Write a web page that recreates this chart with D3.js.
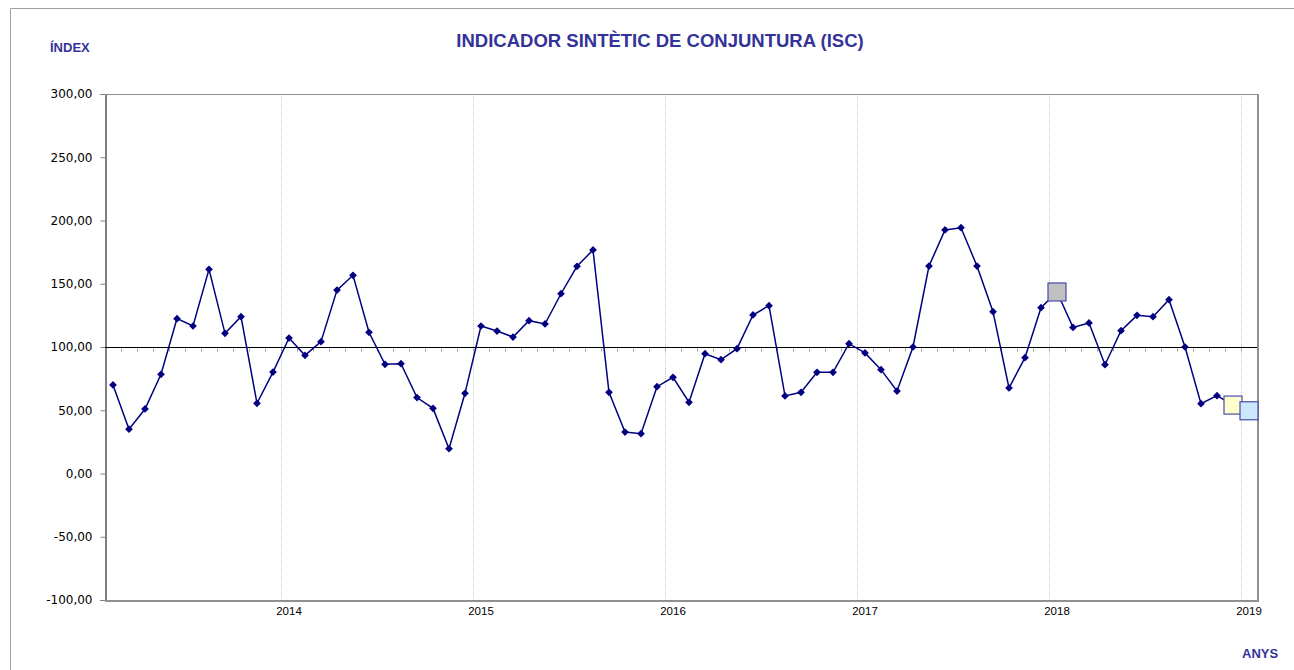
<!DOCTYPE html>
<html>
<head>
<meta charset="utf-8">
<script src="https://cdn.jsdelivr.net/npm/d3@7"></script>
<style>
  body { margin: 0; background: #fff; }
  svg { display: block; }
</style>
</head>
<body>
<svg id="chart"></svg>
<script>
// monthly values, Feb 2013 .. Jan 2019
const values2013 = [70, 35, 51, 78.4, 122.4, 116.6, 161.4, 110.8, 124, 55.5, 80.2];
const values2014 = [107.1, 93.4, 104.2, 145, 156.7, 111.6, 86.3, 86.8, 60, 51.5, 19.6, 63.4];
const values2015 = [116.6, 112.6, 107.9, 120.8, 118.2, 142.1, 163.8, 176.7, 64.2, 32.8, 31.5, 68.6];
const values2016 = [76, 56.3, 94.7, 90, 98.7, 125.3, 132.7, 61.3, 64.2, 80, 80, 102.6];
const values2017 = [95.3, 82.1, 65.2, 100, 164, 192.5, 194.3, 164, 127.9, 67.6, 91.6, 131.1];
const values2018 = [143.5, 115.5, 119, 86, 112.9, 125, 124, 137.4, 100, 55.2, 61.5, 54.1];
const values2019 = [49.6];

const yearLabels = ["2014", "2015", "2016", "2017", "2018", "2019"];
const yTicks = [-100, -50, 0, 50, 100, 150, 200, 250, 300];
// highlighted points: month key -> fill
const highlights = [
  {key: "2018-01", fill: "#c0c0c0"},
  {key: "2018-12", fill: "#ffffcc"},
  {key: "2019-01", fill: "#cce8ff"}
];

const width = 1294, height = 670;
const plot = {left: 105, right: 1257, top: 94, bottom: 600};
const blue = "#333399";

// build month keys
const series = [];
[[2013, values2013, 2], [2014, values2014, 1], [2015, values2015, 1], [2016, values2016, 1],
 [2017, values2017, 1], [2018, values2018, 1], [2019, values2019, 1]].forEach(([yr, vals, m0]) => {
  vals.forEach((v, i) => {
    const m = m0 + i;
    series.push({key: yr + "-" + String(m).padStart(2, "0"), value: v});
  });
});

const svg = d3.select("#chart").attr("width", width).attr("height", height);
svg.append("rect").attr("width", width).attr("height", height).attr("fill", "#fff");

// outer chart frame
svg.append("path").attr("d", "M10.5," + height + "V8.5H" + width)
  .attr("fill", "none").attr("stroke", "#a0a0a0");

const x = d3.scaleBand().domain(series.map(d => d.key)).range([plot.left, plot.right]);
const y = d3.scaleLinear().domain([-100, 300]).range([plot.bottom, plot.top]);

const loc = d3.formatLocale({decimal: ",", thousands: ".", grouping: [3], currency: ["", ""], minus: "-"});
const fmt = loc.format(".2f");

// year gridlines (dotted) at january boundaries
yearLabels.forEach(yr => {
  const xx = Math.round(x(yr + "-01")) + 0.5;
  svg.append("line").attr("x1", xx).attr("x2", xx).attr("y1", plot.top).attr("y2", plot.bottom)
    .attr("stroke", "#c4c4c4").attr("stroke-dasharray", "1,1");
  svg.append("text").attr("x", x(yr + "-01") + x.bandwidth() / 2).attr("y", 615)
    .attr("text-anchor", "middle").attr("font-family", "Liberation Sans, Arial, sans-serif")
    .attr("font-size", 11.5).attr("fill", "#000").text(yr);
});

// y axis
const yAxis = svg.append("g").attr("transform", "translate(" + (plot.left + 0.5) + ",0)")
  .call(d3.axisLeft(y).tickValues(yTicks).tickFormat(fmt).tickSize(5).tickPadding(8));
yAxis.select(".domain").attr("stroke", "#000");
yAxis.selectAll(".tick line").attr("stroke", "#808080");
yAxis.selectAll(".tick text").attr("font-family", "DejaVu Sans, sans-serif")
  .attr("font-size", 12).attr("fill", "#000");

// category axis crossing at 100
const y100 = Math.round(y(100)) + 0.5;
svg.append("line").attr("x1", plot.left).attr("x2", plot.right).attr("y1", y100).attr("y2", y100)
  .attr("stroke", "#000");
svg.append("g").selectAll("line")
  .data(series.slice(1))
  .join("line")
  .attr("x1", d => Math.round(x(d.key)) + 0.5)
  .attr("x2", d => Math.round(x(d.key)) + 0.5)
  .attr("y1", y100 + 1).attr("y2", y100 + 4)
  .attr("stroke", "#a0a0a0");

// plot border (top, right, bottom)
svg.append("path")
  .attr("d", "M" + plot.left + "," + (plot.top + 0.5) + "H" + plot.right)
  .attr("stroke", "#909090").attr("fill", "none");
svg.append("path")
  .attr("d", "M" + (plot.right + 1) + "," + plot.top + "V" + (plot.bottom + 1) + "H" + plot.left)
  .attr("stroke", "#909090").attr("stroke-width", 2).attr("fill", "none");

// line
const cx = d => x(d.key) + x.bandwidth() / 2;
svg.append("path")
  .datum(series)
  .attr("fill", "none")
  .attr("stroke", "#000080")
  .attr("stroke-width", 1.5)
  .attr("d", d3.line().x(cx).y(d => y(d.value)));

const hlKeys = highlights.map(h => h.key);
svg.append("g").selectAll("path")
  .data(series.filter(d => !hlKeys.includes(d.key)))
  .join("path")
  .attr("transform", d => "translate(" + cx(d) + "," + y(d.value) + ") rotate(45)")
  .attr("d", d3.symbol(d3.symbolSquare, 30))
  .attr("fill", "#000080");

// highlighted square markers
highlights.forEach(h => {
  const d = series.find(s => s.key === h.key);
  svg.append("rect")
    .attr("x", cx(d) - 9).attr("y", y(d.value) - 9)
    .attr("width", 18).attr("height", 18)
    .attr("fill", h.fill).attr("stroke", "#4a4aa8").attr("stroke-width", 1.2);
});

// titles
svg.append("text").attr("x", 660).attr("y", 47).attr("text-anchor", "middle")
  .attr("font-family", "Liberation Sans, Arial, sans-serif").attr("font-weight", "bold")
  .attr("font-size", 18.5).attr("fill", blue).text("INDICADOR SINTÈTIC DE CONJUNTURA (ISC)");
svg.append("text").attr("x", 50).attr("y", 52)
  .attr("font-family", "Liberation Sans, Arial, sans-serif").attr("font-weight", "bold")
  .attr("font-size", 13).attr("fill", blue).text("ÍNDEX");
svg.append("text").attr("x", 1242).attr("y", 658)
  .attr("font-family", "Liberation Sans, Arial, sans-serif").attr("font-weight", "bold")
  .attr("font-size", 13).attr("fill", blue).text("ANYS");
</script>
</body>
</html>
